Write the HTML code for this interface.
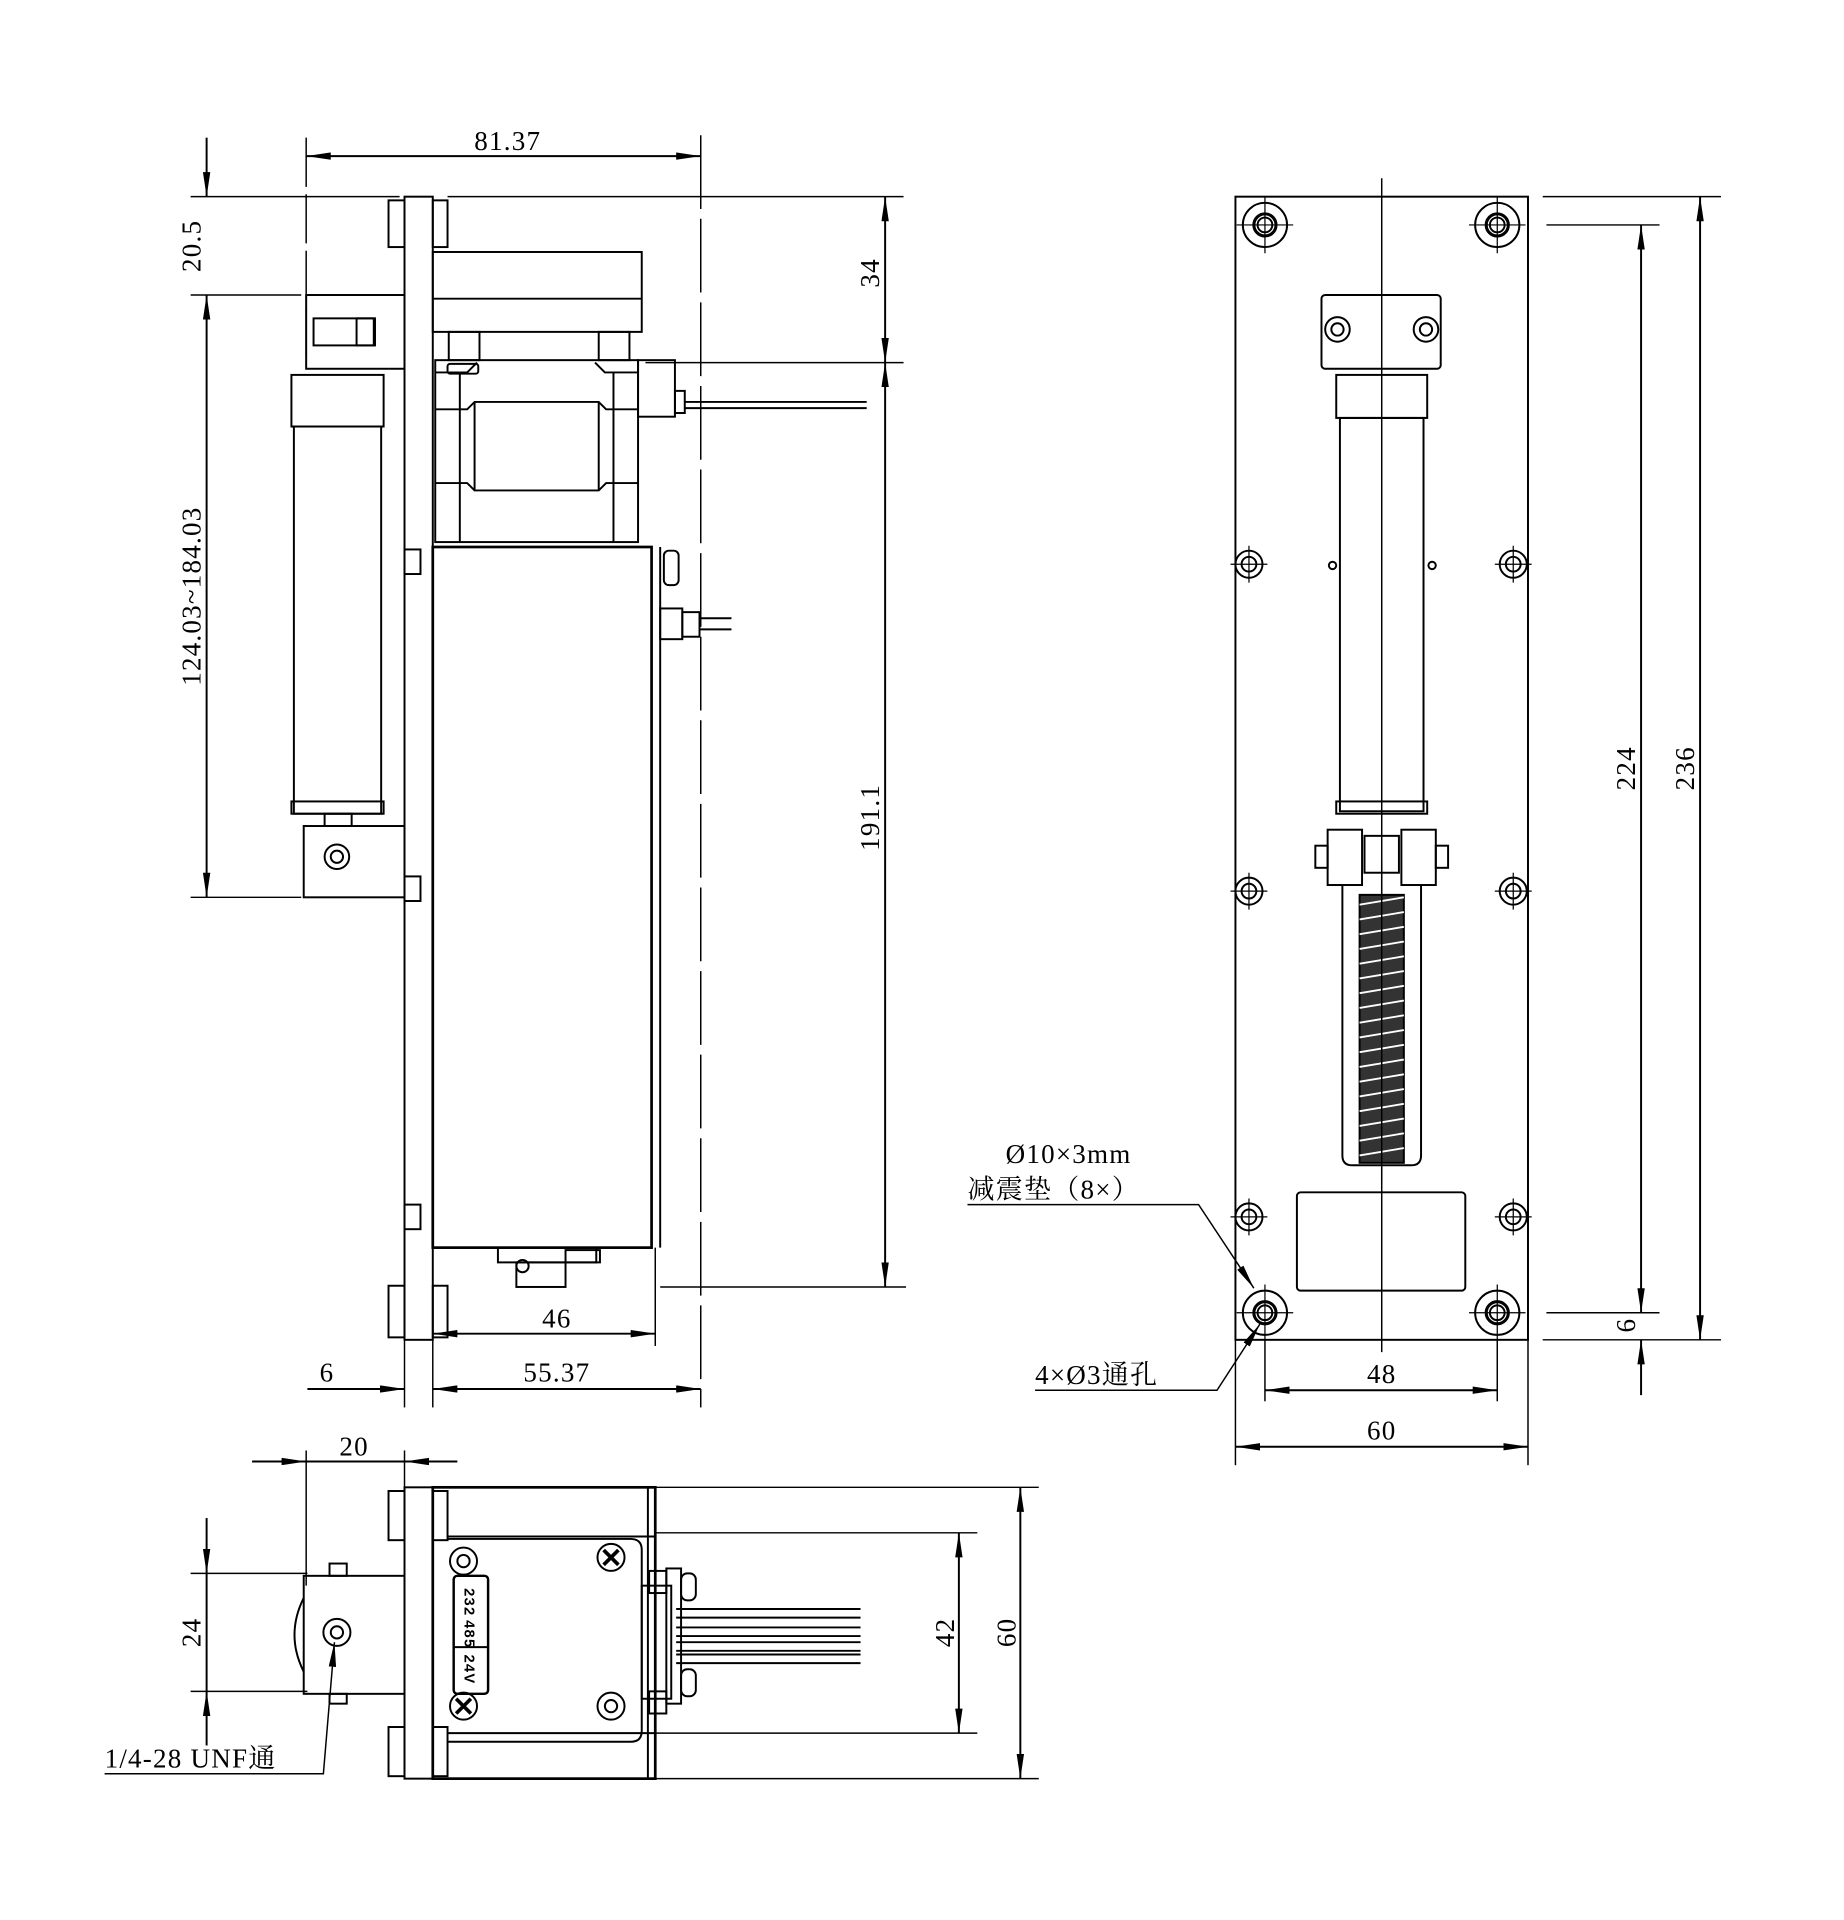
<!DOCTYPE html>
<html><head><meta charset="utf-8"><style>html,body{margin:0;padding:0;background:#fff}svg{display:block}</style></head>
<body>
<svg width="1844" height="1920" viewBox="0 0 1500 1562" xmlns="http://www.w3.org/2000/svg">
<defs>
<marker id="a" viewBox="0 0 20 6" refX="20" refY="3" markerWidth="20" markerHeight="6" markerUnits="userSpaceOnUse" orient="auto-start-reverse"><path d="M0,0 L20,3 L0,6 z" fill="#000"/></marker>
</defs>
<g fill="none" stroke="#000" stroke-width="1.6">
<!-- ===== LEFT VIEW ===== -->
<line x1="249" y1="112" x2="249" y2="300" stroke-dasharray="40 6" stroke-width="1.2"/>
<line x1="570" y1="110" x2="570" y2="1145" stroke-dasharray="60 8" stroke-width="1.2"/>
<line x1="155" y1="160" x2="325" y2="160" stroke-width="1.2"/>
<line x1="364" y1="160" x2="735" y2="160" stroke-width="1.2"/>
<line x1="155" y1="240" x2="245" y2="240" stroke-width="1.2"/>
<line x1="155" y1="730" x2="245" y2="730" stroke-width="1.2"/>
<line x1="525" y1="295" x2="735" y2="295" stroke-width="1.2"/>
<line x1="537" y1="1047" x2="737" y2="1047" stroke-width="1.2"/>
<line x1="249" y1="127" x2="570" y2="127" marker-start="url(#a)" marker-end="url(#a)"/>
<line x1="168" y1="112" x2="168" y2="160" marker-end="url(#a)"/>
<line x1="168" y1="240" x2="168" y2="730" marker-start="url(#a)" marker-end="url(#a)"/>
<line x1="720" y1="160" x2="720" y2="295" marker-start="url(#a)" marker-end="url(#a)"/>
<line x1="720" y1="295" x2="720" y2="1047" marker-start="url(#a)" marker-end="url(#a)"/>
<line x1="533" y1="1015" x2="533" y2="1095" stroke-width="1.2"/>
<line x1="352" y1="1085" x2="533" y2="1085" marker-start="url(#a)" marker-end="url(#a)"/>
<line x1="329" y1="1090" x2="329" y2="1145" stroke-width="1.2"/>
<line x1="352" y1="1090" x2="352" y2="1145" stroke-width="1.2"/>
<line x1="250" y1="1130" x2="329" y2="1130" marker-end="url(#a)"/>
<line x1="352" y1="1130" x2="570" y2="1130" marker-start="url(#a)" marker-end="url(#a)"/>
<rect x="329" y="160" width="23" height="930"/>
<rect x="316" y="163" width="13" height="38"/>
<rect x="316" y="1046" width="13" height="42"/>
<rect x="352" y="163" width="12" height="38"/>
<rect x="352" y="1046" width="12" height="42"/>
<rect x="329" y="447" width="13" height="20"/>
<rect x="329" y="713" width="13" height="20"/>
<rect x="329" y="980" width="13" height="20"/>
<rect x="352" y="205" width="170" height="65"/>
<line x1="352" y1="243" x2="522" y2="243"/>
<rect x="365" y="270" width="25" height="23"/>
<rect x="487" y="270" width="25" height="23"/>
<!-- load cell -->
<rect x="354" y="293" width="165" height="148"/>
<line x1="354" y1="303" x2="374" y2="303"/><line x1="499" y1="303" x2="519" y2="303"/>
<path d="M374,303 H380 L388,295 M499,303 H492 L484,295"/>
<line x1="374" y1="303" x2="374" y2="441"/><line x1="499" y1="303" x2="499" y2="441"/>
<path d="M354,333 H380 L386,327 H487 L493,333 H519"/>
<path d="M354,393 H380 L386,399 H487 L493,393 H519"/>
<line x1="386" y1="327" x2="386" y2="399"/><line x1="487" y1="327" x2="487" y2="399"/>
<rect x="364" y="296" width="25" height="8" rx="2"/>
<rect x="519" y="293" width="30" height="46"/>
<rect x="549" y="318" width="8" height="18"/>
<line x1="557" y1="327" x2="705" y2="327"/><line x1="557" y1="332" x2="705" y2="332"/>
<rect x="352" y="445" width="178" height="570" stroke-width="2.2"/>
<line x1="537" y1="445" x2="537" y2="1015"/>
<rect x="540" y="448" width="12" height="28" rx="4"/>
<rect x="537" y="495" width="18" height="25"/>
<rect x="555" y="498" width="14" height="20"/>
<line x1="569" y1="503" x2="595" y2="503"/><line x1="569" y1="512" x2="595" y2="512"/>
<rect x="405" y="1015" width="80" height="12"/>
<rect x="420" y="1027" width="40" height="20"/>
<circle cx="425" cy="1030" r="5"/>
<rect x="460" y="1017" width="28" height="10"/>
<rect x="249" y="240" width="80" height="60"/>
<rect x="255" y="259" width="50" height="22"/>
<rect x="290" y="259" width="14" height="22"/>
<rect x="237" y="305" width="75" height="42"/>
<rect x="239" y="347" width="71" height="315"/>
<rect x="237" y="652" width="75" height="10"/>
<rect x="264" y="662" width="22" height="10"/>
<rect x="247" y="672" width="82" height="58"/>
<circle cx="274" cy="697" r="10"/><circle cx="274" cy="697" r="5"/>

<!-- ===== BOTTOM VIEW ===== -->
<line x1="249" y1="1180" x2="249" y2="1290" stroke-width="1.2"/>
<line x1="329" y1="1180" x2="329" y2="1210" stroke-width="1.2"/>
<line x1="205" y1="1189" x2="249" y2="1189" marker-end="url(#a)"/>
<line x1="372" y1="1189" x2="329" y2="1189" marker-end="url(#a)"/>
<line x1="249" y1="1189" x2="329" y2="1189"/>
<line x1="155" y1="1280" x2="250" y2="1280" stroke-width="1.2"/>
<line x1="155" y1="1376" x2="250" y2="1376" stroke-width="1.2"/>
<line x1="168" y1="1235" x2="168" y2="1280" marker-end="url(#a)"/>
<line x1="168" y1="1420" x2="168" y2="1376" marker-end="url(#a)"/>
<line x1="168" y1="1280" x2="168" y2="1376"/>
<line x1="533" y1="1247" x2="795" y2="1247" stroke-width="1.2"/>
<line x1="533" y1="1410" x2="795" y2="1410" stroke-width="1.2"/>
<line x1="533" y1="1210" x2="845" y2="1210" stroke-width="1.2"/>
<line x1="533" y1="1447" x2="845" y2="1447" stroke-width="1.2"/>
<line x1="780" y1="1247" x2="780" y2="1410" marker-start="url(#a)" marker-end="url(#a)"/>
<line x1="830" y1="1210" x2="830" y2="1447" marker-start="url(#a)" marker-end="url(#a)"/>
<rect x="329" y="1210" width="23" height="237"/>
<rect x="316" y="1213" width="13" height="40"/>
<rect x="316" y="1405" width="13" height="40"/>
<rect x="352" y="1210" width="181" height="237" stroke-width="2.2"/>
<rect x="352" y="1213" width="12" height="40"/>
<rect x="352" y="1405" width="12" height="40"/>
<line x1="364" y1="1250" x2="533" y2="1250"/>
<line x1="364" y1="1410" x2="533" y2="1410"/>
<path d="M364,1252 L513,1252 Q522,1252 522,1261 L522,1408 Q522,1417 513,1417 L364,1417"/>
<line x1="527" y1="1210" x2="527" y2="1447"/>
<circle cx="377" cy="1270" r="11"/><circle cx="377" cy="1270" r="5"/>
<circle cx="377" cy="1388" r="11"/>
<circle cx="497" cy="1267" r="11"/>
<circle cx="497" cy="1388" r="11"/><circle cx="497" cy="1388" r="5"/>
<path d="M491,1261 l12,12 M503,1261 l-12,12 M371,1382 l12,12 M383,1382 l-12,12" stroke-width="3"/>
<rect x="369" y="1282" width="28" height="96" rx="3" stroke-width="2"/>
<line x1="369" y1="1340" x2="397" y2="1340"/>
<rect x="522" y="1290" width="24" height="92"/>
<rect x="528" y="1278" width="14" height="18"/><rect x="528" y="1376" width="14" height="18"/>
<rect x="542" y="1276" width="12" height="110"/>
<rect x="554" y="1280" width="12" height="22" rx="5"/><rect x="554" y="1358" width="12" height="22" rx="5"/>
<path d="M550,1309 H700 M550,1316 H700 M550,1324 H700 M550,1331 H700 M550,1336 H700 M550,1343 H700 M550,1346 H700 M550,1353 H700"/>
<rect x="247" y="1282" width="82" height="96"/>
<path d="M247,1300 Q232,1330 247,1360"/>
<rect x="268" y="1272" width="14" height="10"/>
<rect x="268" y="1378" width="14" height="8"/>
<circle cx="274" cy="1328" r="11"/><circle cx="274" cy="1328" r="5"/>
<path d="M85,1443 H263 L272,1336" stroke-width="1.2" marker-end="url(#a)"/>

<!-- ===== RIGHT VIEW ===== -->
<rect x="1005" y="160" width="238" height="930"/>
<line x1="1124" y1="145" x2="1124" y2="1100" stroke-width="1.2"/>
<line x1="1255" y1="160" x2="1400" y2="160" stroke-width="1.2"/>
<line x1="1255" y1="1090" x2="1400" y2="1090" stroke-width="1.2"/>
<line x1="1258" y1="183" x2="1350" y2="183" stroke-width="1.2"/>
<line x1="1258" y1="1068" x2="1350" y2="1068" stroke-width="1.2"/>
<line x1="1383" y1="160" x2="1383" y2="1090" marker-start="url(#a)" marker-end="url(#a)"/>
<line x1="1335" y1="183" x2="1335" y2="1068" marker-start="url(#a)" marker-end="url(#a)"/>
<line x1="1335" y1="1090" x2="1335" y2="1135" marker-start="url(#a)"/>
<line x1="1029" y1="1090" x2="1029" y2="1140" stroke-width="1.2"/>
<line x1="1218" y1="1090" x2="1218" y2="1140" stroke-width="1.2"/>
<line x1="1005" y1="1090" x2="1005" y2="1192" stroke-width="1.2"/>
<line x1="1243" y1="1090" x2="1243" y2="1192" stroke-width="1.2"/>
<line x1="1029" y1="1131" x2="1218" y2="1131" marker-start="url(#a)" marker-end="url(#a)"/>
<line x1="1005" y1="1177" x2="1243" y2="1177" marker-start="url(#a)" marker-end="url(#a)"/>
<g id="ch">
<circle cx="1029" cy="183" r="18"/><circle cx="1029" cy="183" r="9" stroke-width="2.5"/><circle cx="1029" cy="183" r="6"/>
<path d="M1029,160 V206 M1006,183 H1052" stroke-width="1"/>
</g>
<use href="#ch" x="189"/><use href="#ch" y="885"/><use href="#ch" x="189" y="885"/>
<g id="sh"><circle cx="1016" cy="459" r="11"/><circle cx="1016" cy="459" r="6"/><path d="M1016,444 V474 M1001,459 H1031" stroke-width="1"/></g>
<use href="#sh" x="215"/><use href="#sh" y="266"/><use href="#sh" x="215" y="266"/><use href="#sh" y="531"/><use href="#sh" x="215" y="531"/>
<rect x="1075" y="240" width="97" height="60" rx="3"/>
<circle cx="1088" cy="268" r="10"/><circle cx="1088" cy="268" r="5"/>
<circle cx="1160" cy="268" r="10"/><circle cx="1160" cy="268" r="5"/>
<rect x="1087" y="305" width="74" height="35"/>
<rect x="1090" y="340" width="68" height="320"/>
<circle cx="1084" cy="460" r="3"/><circle cx="1165" cy="460" r="3"/>
<rect x="1087" y="652" width="74" height="10"/>
<rect x="1080" y="675" width="28" height="45"/><rect x="1140" y="675" width="28" height="45"/>
<rect x="1110" y="680" width="28" height="30"/>
<rect x="1070" y="688" width="10" height="18"/><rect x="1168" y="688" width="10" height="18"/>
<path d="M1092,720 V940 Q1092,948 1100,948 H1148 Q1156,948 1156,940 V720"/>
<rect x="1106" y="728" width="36" height="218" fill="#333" stroke="#000"/>
<path d="M1106,736 l36,-6 M1106,748 l36,-6 M1106,760 l36,-6 M1106,772 l36,-6 M1106,784 l36,-6 M1106,796 l36,-6 M1106,808 l36,-6 M1106,820 l36,-6 M1106,832 l36,-6 M1106,844 l36,-6 M1106,856 l36,-6 M1106,868 l36,-6 M1106,880 l36,-6 M1106,892 l36,-6 M1106,904 l36,-6 M1106,916 l36,-6 M1106,928 l36,-6 M1106,940 l36,-6" stroke="#fff" stroke-width="1.5"/>
<line x1="1124" y1="700" x2="1124" y2="960" stroke-width="1.2"/>
<rect x="1055" y="970" width="137" height="80" rx="3"/>
<path d="M787,980 H975 L1020,1048" stroke-width="1.2" marker-end="url(#a)"/>
<path d="M842,1131 H990 L1025,1077" stroke-width="1.2" marker-end="url(#a)"/>
</g>
<g font-family="'Liberation Serif','Noto Serif CJK SC',serif" font-size="22" fill="#000" letter-spacing="1">
<text x="413" y="122" text-anchor="middle">81.37</text>
<text transform="translate(163,200) rotate(-90)" text-anchor="middle">20.5</text>
<text transform="translate(163,485) rotate(-90)" text-anchor="middle">124.03~184.03</text>
<text transform="translate(715,222) rotate(-90)" text-anchor="middle">34</text>
<text transform="translate(715,665) rotate(-90)" text-anchor="middle">191.1</text>
<text x="453" y="1080" text-anchor="middle">46</text>
<text x="266" y="1124" text-anchor="middle">6</text>
<text x="453" y="1124" text-anchor="middle">55.37</text>
<text x="288" y="1184" text-anchor="middle">20</text>
<text transform="translate(163,1328) rotate(-90)" text-anchor="middle">24</text>
<text transform="translate(776,1328) rotate(-90)" text-anchor="middle">42</text>
<text transform="translate(826,1328) rotate(-90)" text-anchor="middle">60</text>
<text x="85" y="1438">1/4-28 UNF通</text>
<text transform="translate(1378,625) rotate(-90)" text-anchor="middle">236</text>
<text transform="translate(1330,625) rotate(-90)" text-anchor="middle">224</text>
<text transform="translate(1330,1078) rotate(-90)" text-anchor="middle">6</text>
<text x="1124" y="1125" text-anchor="middle">48</text>
<text x="1124" y="1171" text-anchor="middle">60</text>
<text x="818" y="946">Ø10×3mm</text>
<text x="787" y="975">减震垫（8×）</text>
<text x="842" y="1126">4×Ø3通孔</text>
<g font-size="12" font-weight="bold" font-family="'Liberation Sans',sans-serif">
<text transform="translate(378,1292) rotate(90)">232</text>
<text transform="translate(378,1318) rotate(90)">485</text>
<text transform="translate(378,1346) rotate(90)">24V</text>
</g>
</g>
</svg>
</body></html>
